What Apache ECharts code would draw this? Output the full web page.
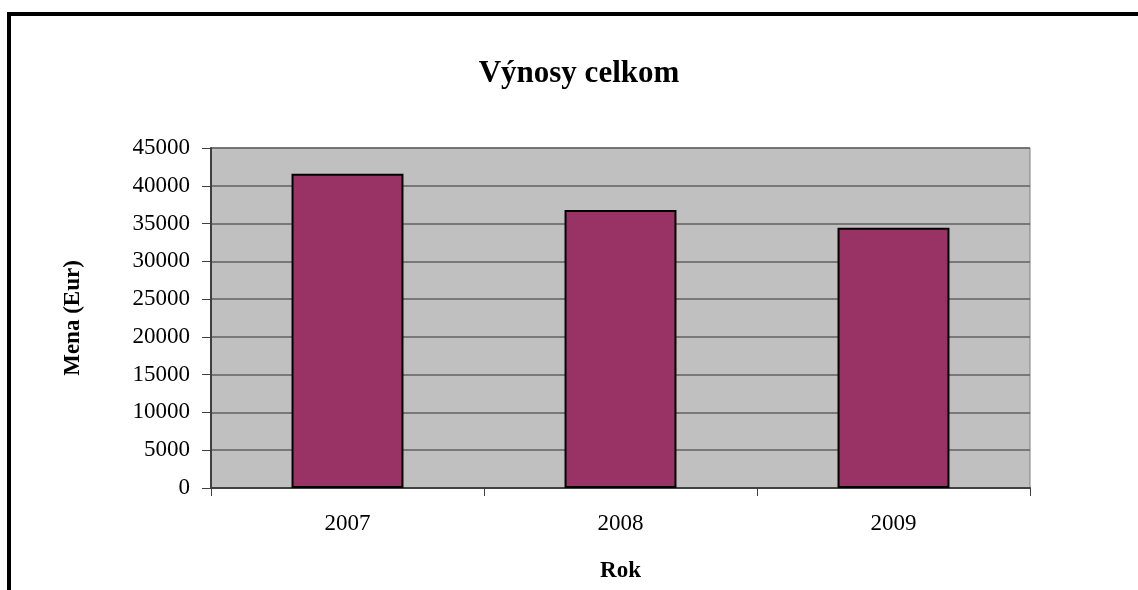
<!DOCTYPE html>
<html>
<head>
<meta charset="utf-8">
<script src="https://cdn.jsdelivr.net/npm/echarts@6/dist/echarts.min.js"></script>
<style>
html,body{margin:0;padding:0;background:#fff;overflow:hidden;}
#c{width:1138px;height:590px;}
</style>
</head>
<body>
<div id="c"></div>
<script>
const titleText = "Výnosy celkom";
const categories = ["2007", "2008", "2009"];
const values = [41600, 36800, 34450];
const yTicks = { min: 0, max: 45000, interval: 5000 };
const yName = "Mena (Eur)";
const xName = "Rok";

const font = "'Liberation Serif', 'Times New Roman', serif";
const chart = echarts.init(document.getElementById('c'), null, { renderer: 'canvas' });
chart.setOption({
  animation: false,
  backgroundColor: '#ffffff',
  title: {
    text: titleText,
    left: 574, top: 53, textAlign: 'center',
    textStyle: { fontFamily: font, fontSize: 31, fontWeight: 'bold', color: '#000' }
  },
  graphic: [{
    type: 'rect', silent: true, z: 100,
    shape: { x: 9, y: 14, width: 1300, height: 800 },
    style: { fill: 'none', stroke: '#000', lineWidth: 4 }
  }],
  grid: {
    left: 211, top: 148, width: 819, height: 340,
    show: true, backgroundColor: '#C0C0C0', borderColor: '#808080', borderWidth: 1
  },
  xAxis: {
    type: 'category',
    data: categories,
    name: xName, nameLocation: 'middle', nameGap: 72,
    nameTextStyle: { fontFamily: font, fontSize: 23, fontWeight: 'bold', color: '#000' },
    axisLine: { lineStyle: { color: '#404040', width: 2 } },
    axisTick: { show: true, length: 8, lineStyle: { color: '#404040', width: 1 } },
    axisLabel: { fontFamily: font, fontSize: 23, color: '#000', margin: 24 },
    splitLine: { show: false }
  },
  yAxis: {
    type: 'value',
    min: yTicks.min, max: yTicks.max, interval: yTicks.interval,
    name: yName, nameLocation: 'middle', nameGap: 126,
    nameTextStyle: { fontFamily: font, fontSize: 23, fontWeight: 'bold', color: '#000' },
    axisLine: { show: true, lineStyle: { color: '#404040', width: 2 } },
    axisTick: { show: true, length: 9, lineStyle: { color: '#404040', width: 1 } },
    axisLabel: { fontFamily: font, fontSize: 23, color: '#000', margin: 21, formatter: v => String(v) },
    splitLine: { show: true, lineStyle: { color: '#606060', width: 1.5 } }
  },
  series: [{
    type: 'bar',
    data: values,
    barCategoryGap: '59%',
    itemStyle: { color: '#993366', borderColor: '#000', borderWidth: 2 }
  }]
});
</script>
</body>
</html>
